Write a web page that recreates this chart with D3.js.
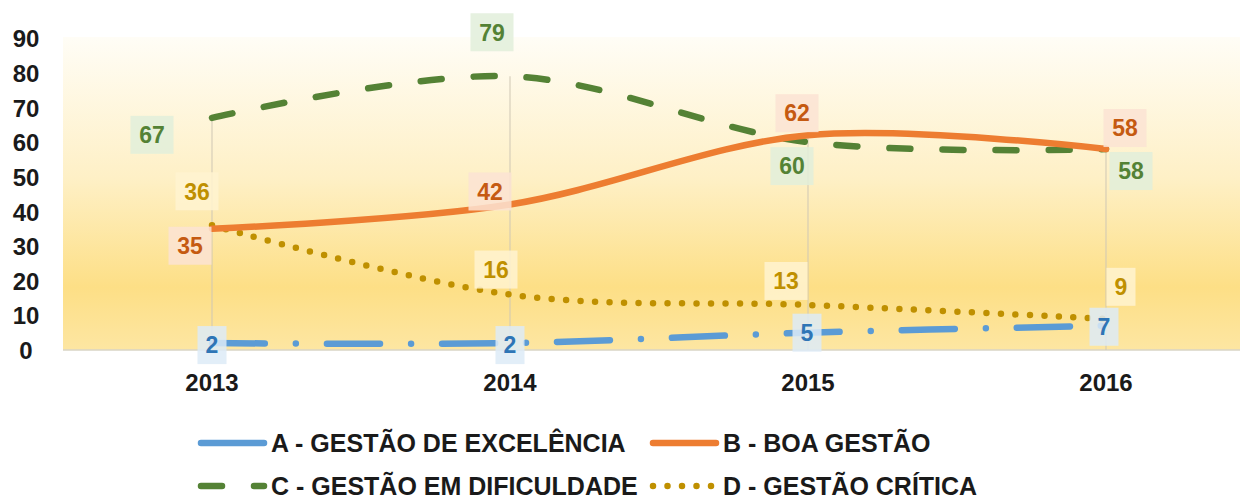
<!DOCTYPE html>
<html>
<head>
<meta charset="utf-8">
<script src="https://cdn.jsdelivr.net/npm/d3@7"></script>
<style>
  body { margin: 0; background: #fff; }
  svg text { font-family: "Liberation Sans", Arial, sans-serif; font-weight: bold; }
</style>
</head>
<body>
<svg id="chart"></svg>
<script>
// Chart size matches the browser window
const width = 1240;
const height = 499;

// Data
const years = ["2013", "2014", "2015", "2016"];
const yTicks = [0, 10, 20, 30, 40, 50, 60, 70, 80, 90];
const seriesNames = [
  "A - GESTÃO DE EXCELÊNCIA",
  "B - BOA GESTÃO",
  "C - GESTÃO EM DIFICULDADE",
  "D - GESTÃO CRÍTICA"
];
const valuesA = [2, 2, 5, 7];
const valuesB = [35, 42, 62, 58];
const valuesC = [67, 79, 60, 58];
const valuesD = [36, 16, 13, 9];

// Styling per series (colors, dash patterns)
const styles = [
  { line: "#5b9bd5", text: "#2e75b6", box: "#ddebf7", dash: "53 31 0 31" },
  { line: "#ed7d31", text: "#c55a11", box: "#fbe3d3", dash: null },
  { line: "#548235", text: "#548235", box: "#e2efda", dash: "21 32" },
  { line: "#bf9000", text: "#bf9000", box: "#fff3d0", dash: "0 14.5" }
];

// Label offsets (dx, dy) from each point, as placed in the reference
const labelOffsets = [
  [[0, 2], [0, 2], [-1, 0], [-2, 1]],
  [[-22, 17], [-20, -13], [-11, -22], [19, -21]],
  [[-60, 17], [-18, -44], [-16, 24], [25, 22]],
  [[-15, -34], [-14, -25], [-22, -24], [15, -32]]
];

const allValues = [valuesA, valuesB, valuesC, valuesD];

const svg = d3.select("#chart")
  .attr("width", width)
  .attr("height", height);

// Plot area
const plotLeft = 63, plotRight = 1240, plotTop = 37, plotBottom = 350;

const x = d3.scaleBand()
  .domain(years)
  .range([plotLeft, plotLeft + 4 * 298])
  .padding(0);
const cx = d => x(d) + x.bandwidth() / 2;

const y = d3.scaleLinear()
  .domain([0, 90])
  .range([plotBottom, plotBottom - 9 * 34.65]);

// Background gradient
const defs = svg.append("defs");
const grad = defs.append("linearGradient")
  .attr("id", "bg")
  .attr("x1", 0).attr("y1", 0).attr("x2", 0).attr("y2", 1);
grad.append("stop").attr("offset", "0%").attr("stop-color", "#fffdf6");
grad.append("stop").attr("offset", "45%").attr("stop-color", "#fef0c6");
grad.append("stop").attr("offset", "80%").attr("stop-color", "#fddf86");
grad.append("stop").attr("offset", "100%").attr("stop-color", "#fde6a2");

svg.append("rect")
  .attr("x", plotLeft)
  .attr("y", plotTop)
  .attr("width", plotRight - plotLeft)
  .attr("height", plotBottom - plotTop)
  .attr("fill", "url(#bg)");

// Baseline
svg.append("line")
  .attr("x1", plotLeft).attr("x2", plotRight)
  .attr("y1", plotBottom).attr("y2", plotBottom)
  .attr("stroke", "#d9d4c4")
  .attr("stroke-width", 1.5);

// Drop lines from 0 to the highest value per year
svg.selectAll(".drop")
  .data(years)
  .enter()
  .append("line")
  .attr("class", "drop")
  .attr("x1", d => cx(d)).attr("x2", d => cx(d))
  .attr("y1", y(0))
  .attr("y2", (d, i) => y(d3.max(allValues, v => v[i])))
  .attr("stroke", "#cfc7b4")
  .attr("stroke-width", 1);

// Y axis labels
const yAxis = d3.axisLeft(y).tickValues(yTicks).tickSize(0).tickPadding(0);
const yG = svg.append("g")
  .attr("transform", "translate(26,0)")
  .call(yAxis);
yG.select(".domain").remove();
yG.selectAll("text")
  .attr("font-size", 24)
  .attr("font-family", "Liberation Sans, Arial, sans-serif")
  .attr("font-weight", "bold")
  .attr("fill", "#1a1a1a")
  .attr("text-anchor", "middle")
  .attr("dy", "0.36em");

// X axis labels
const xAxis = d3.axisBottom(x).tickSize(0).tickPadding(0);
const xG = svg.append("g")
  .attr("transform", "translate(0,374)")
  .call(xAxis);
xG.select(".domain").remove();
xG.selectAll("text")
  .attr("font-size", 24)
  .attr("font-family", "Liberation Sans, Arial, sans-serif")
  .attr("font-weight", "bold")
  .attr("fill", "#1a1a1a");

// Lines (smoothed like the spreadsheet original)
const line = d3.line()
  .x((d, i) => cx(years[i]))
  .y(d => y(d))
  .curve(d3.curveCatmullRom.alpha(0));

// Draw in order C, D, B, A so the overlaps look right
[2, 3, 1, 0].forEach(s => {
  svg.append("path")
    .datum(allValues[s])
    .attr("d", line)
    .attr("fill", "none")
    .attr("stroke", styles[s].line)
    .attr("stroke-width", 6.5)
    .attr("stroke-linecap", "round")
    .attr("stroke-dasharray", styles[s].dash);
});

// Data labels
allValues.forEach((vals, s) => {
  vals.forEach((v, i) => {
    const px = cx(years[i]) + labelOffsets[s][i][0];
    const py = y(v) + labelOffsets[s][i][1];
    const txt = String(v);
    const w = txt.length > 1 ? 43 : 29;
    const g = svg.append("g").attr("transform", `translate(${px},${py})`);
    g.append("rect")
      .attr("x", -w / 2).attr("y", -19)
      .attr("width", w).attr("height", 38)
      .attr("fill", styles[s].box)
      .attr("opacity", 0.85);
    g.append("text")
      .attr("text-anchor", "middle")
      .attr("dy", "0.36em")
      .attr("font-size", 23)
      .attr("fill", styles[s].text)
      .text(txt);
  });
});

// Legend
const legendItems = [
  { s: 0, x: 198, y: 443 },
  { s: 1, x: 650, y: 443 },
  { s: 2, x: 198, y: 486 },
  { s: 3, x: 650, y: 486 }
];
const legend = svg.append("g").attr("class", "legend");
legendItems.forEach(it => {
  legend.append("line")
    .attr("x1", it.x + 3).attr("x2", it.x + 66)
    .attr("y1", it.y).attr("y2", it.y)
    .attr("stroke", styles[it.s].line)
    .attr("stroke-width", 6.5)
    .attr("stroke-linecap", "round")
    .attr("stroke-dasharray", it.s === 0 ? null : styles[it.s].dash);
  legend.append("text")
    .attr("x", it.x + 73)
    .attr("y", it.y)
    .attr("dy", "0.36em")
    .attr("font-size", 25)
    .attr("fill", "#1a1a1a")
    .text(seriesNames[it.s]);
});
</script>
</body>
</html>
